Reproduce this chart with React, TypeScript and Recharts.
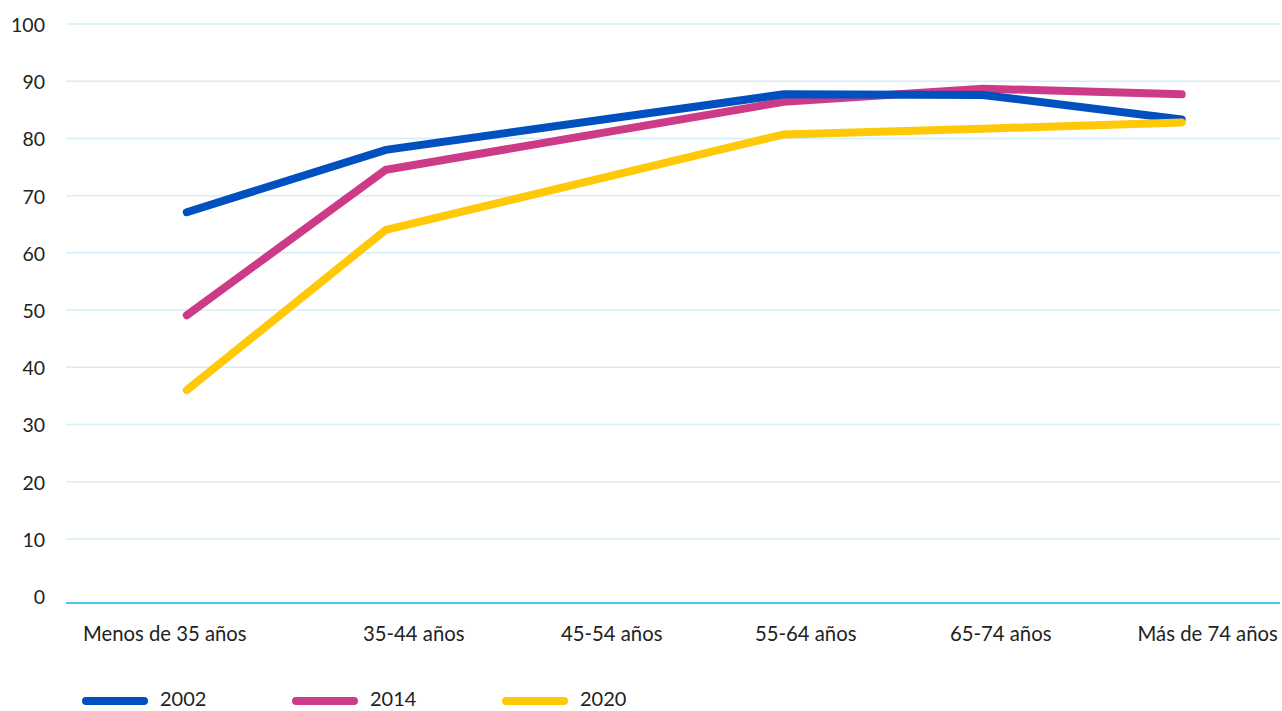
import React from 'react';
import { LineChart, Line, XAxis, YAxis, CartesianGrid, Legend } from 'recharts';

const categories = ['Menos de 35 años', '35-44 años', '45-54 años', '55-64 años', '65-74 años', 'Más de 74 años'];
const values2002: (number | null)[] = [67.1, 78.0, null, 87.7, 87.6, 83.3];
const values2014: (number | null)[] = [49.1, 74.5, null, 86.4, 88.7, 87.7];
const values2020: (number | null)[] = [36.0, 64.0, null, 80.7, 81.7, 82.8];
const yTicks = [0, 10, 20, 30, 40, 50, 60, 70, 80, 90, 100];
const gridValues = [10, 20, 30, 40, 50, 60, 70, 80, 90, 100];

const series = [
  { key: 'y2002', name: '2002', color: '#0050BF' },
  { key: 'y2014', name: '2014', color: '#CC3A88' },
  { key: 'y2020', name: '2020', color: '#FFC90A' },
];
const drawOrder = ['y2014', 'y2002', 'y2020'];

const data = categories.map((c, i) => ({
  idx: i,
  label: c,
  y2002: values2002[i],
  y2014: values2014[i],
  y2020: values2020[i],
}));

// style: horizontal nudge of each category label
const labelNudge = [-22, 28, 27, 22, 18, 26];
const FONT = 'Lato, "Noto Sans", sans-serif';
const TEXT = '#222222';

const XTick = (props: any) => {
  const { x, y, payload } = props;
  const i = Math.round(payload.value);
  return (
    <text x={x + (labelNudge[i] ?? 0)} y={y} dy={38} textAnchor="middle" fill={TEXT} fontSize={20.3} fontFamily={FONT}>
      {categories[i]}
    </text>
  );
};

const YTick = (props: any) => {
  const { y, payload } = props;
  return (
    <text x={45} y={y} dy={8} textAnchor="end" fill={TEXT} fontSize={19.5} fontFamily={FONT}>
      {payload.value}
    </text>
  );
};

const LegendContent = () => (
  <div style={{ position: 'relative', height: 30, width: 1282 }}>
    {series.map((s, i) => (
      <div key={s.key} style={{ position: 'absolute', left: 82 + i * 210, top: 5, height: 24, display: 'flex', alignItems: 'center' }}>
        <div style={{ width: 66, height: 8, borderRadius: 4, background: s.color, position: 'relative', top: 3 }} />
        <div style={{ marginLeft: 12, fontSize: 20, fontFamily: FONT, color: TEXT, lineHeight: '24px', height: 24 }}>{s.name}</div>
      </div>
    ))}
  </div>
);

export default function App() {
  return (
    <div style={{ position: 'absolute', left: 0, top: 0, width: 1282, height: 711, background: '#fff' }}>
      <LineChart width={1282} height={711} data={data} margin={{ top: 24, right: 2, left: 0, bottom: 0 }}>
        <CartesianGrid vertical={false} horizontalValues={gridValues} stroke="#D6EEF8" strokeWidth={1.5} />
        <XAxis
          dataKey="idx"
          type="number"
          domain={[-0.607, 5.494]}
          ticks={[0, 1, 2, 3, 4, 5]}
          allowDataOverflow
          height={78}
          tickLine={false}
          tickSize={0}
          tickMargin={0}
          axisLine={{ stroke: '#4EC3EC', strokeWidth: 2 }}
          tick={<XTick />}
          interval={0}
        />
        <YAxis
          type="number"
          domain={[-1.2, 100]}
          ticks={yTicks}
          allowDataOverflow
          width={66}
          axisLine={false}
          tickLine={false}
          tick={<YTick />}
          interval={0}
        />
        <Legend verticalAlign="bottom" align="left" height={30} content={<LegendContent />} wrapperStyle={{ left: 0, bottom: 0 }} />
        {drawOrder.map((k) => {
          const s = series.find((x) => x.key === k)!;
          return (
            <Line
              key={k}
              type="linear"
              dataKey={k}
              name={s.name}
              stroke={s.color}
              strokeWidth={8}
              strokeLinecap="round"
              dot={false}
              activeDot={false}
              connectNulls
              isAnimationActive={false}
            />
          );
        })}
      </LineChart>
    </div>
  );
}
